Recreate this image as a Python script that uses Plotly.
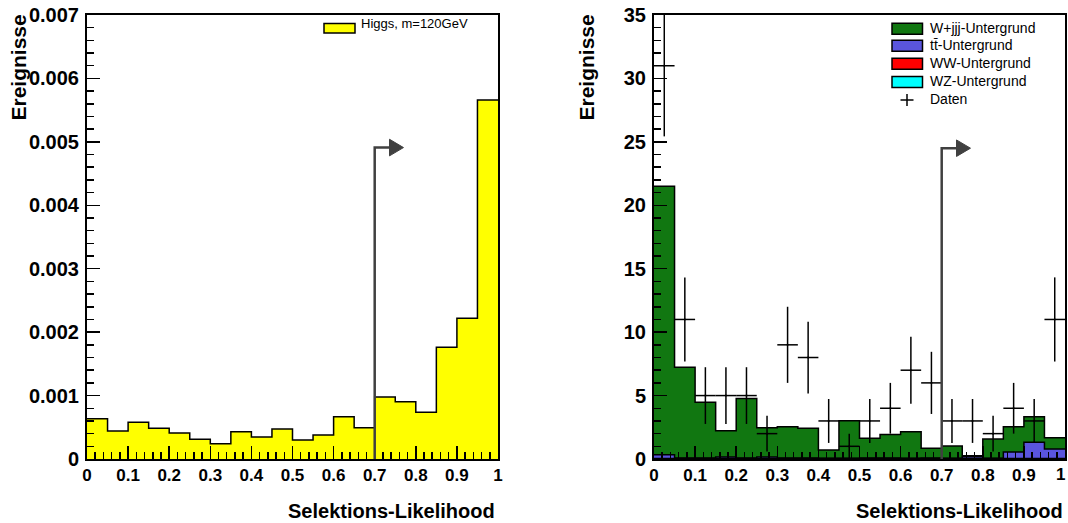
import numpy as np
import plotly.graph_objects as go

# ---------------- data ----------------
bin_edges = [round(0.05 * i, 2) for i in range(21)]
bin_centers = [round(0.025 + 0.05 * i, 3) for i in range(20)]

higgs_120 = [0.000636, 0.000441, 0.000578, 0.000483, 0.000410, 0.000310, 0.000242,
             0.000431, 0.000347, 0.000473, 0.000300, 0.000378, 0.000667, 0.000494,
             0.000978, 0.000904, 0.000736, 0.001760, 0.002220, 0.005660]

wjjj = [21.17, 7.16, 4.40, 2.08, 4.69, 2.32, 2.48, 2.35, 0.66, 2.97,
        1.56, 1.87, 2.10, 0.77, 0.97, 0.08, 1.53, 1.99, 2.02, 0.89]
ttbar = [0.30, 0.04, 0.04, 0.12, 0.04, 0.12, 0.04, 0.04, 0.02, 0.02,
         0.04, 0.04, 0.02, 0.04, 0.02, 0.15, 0.02, 0.53, 1.29, 0.76]
ww = [0.02] * 20
wz = [0.01] * 20
daten = [31, 11, 5, 5, 5, 2, 9, 8, 3, 1, 3, 4, 7, 6, 3, 3, 2, 4, 3, 11]

cut_value = 0.7
x_ticks = [round(0.1 * i, 1) for i in range(11)]
x_ticktext = ["0"] + [f"{v:g}" for v in x_ticks[1:-1]] + ["1"]
y1_ticks = [0.001 * i for i in range(8)]
y1_ticktext = ["0"] + [f"{0.001 * i:.3f}" for i in range(1, 8)]
y2_ticks = [5 * i for i in range(8)]
y2_ticktext = [str(v) for v in y2_ticks]

# ---------------- geometry ----------------
W, H = 1068, 523
def px(x): return x / W
def py(y): return 1 - y / H

FONT = "Liberation Sans"
fig = go.Figure()

def step_outline(vals, xa, ya, color="black", width=1.5):
    xs = list(bin_edges[:-1]) + [bin_edges[-1]]
    ys = list(vals) + [vals[-1]]
    return go.Scatter(x=xs, y=ys, mode="lines", line=dict(shape="hv", color=color, width=width),
                      xaxis=xa, yaxis=ya, showlegend=False, hoverinfo="skip")

# left panel
fig.add_trace(go.Bar(x=bin_centers, y=higgs_120, width=0.05, marker=dict(color="#ffff00", line=dict(width=0)),
                     xaxis="x", yaxis="y", showlegend=False))
fig.add_trace(step_outline(higgs_120, "x", "y"))

# right panel: stacked
s_wz = np.array(wz)
s_ww = s_wz + np.array(ww)
s_tt = s_ww + np.array(ttbar)
s_all = s_tt + np.array(wjjj)
for vals, col in [(s_all, "#117711"), (s_tt, "#5a55dd"), (s_ww, "#ff0000"), (s_wz, "#00ffff")]:
    fig.add_trace(go.Bar(x=bin_centers, y=list(vals), width=0.05, marker=dict(color=col, line=dict(width=0)),
                         xaxis="x2", yaxis="y2", showlegend=False))
    fig.add_trace(step_outline(list(vals), "x2", "y2"))

fig.add_trace(go.Scatter(
    x=bin_centers, y=daten, mode="markers", xaxis="x2", yaxis="y2", showlegend=False,
    marker=dict(color="black", size=2),
    error_y=dict(type="data", array=list(np.sqrt(daten)), color="black", thickness=1.5, width=0),
    error_x=dict(type="constant", value=0.025, color="black", thickness=1.5, width=0)))

# axes
def xaxis(domain, anchor, ticktext):
    return dict(domain=domain, anchor=anchor, range=[0, 1], tickvals=x_ticks, ticktext=ticktext,
                ticks="inside", ticklen=13, tickwidth=1.5, tickcolor="black", automargin=False,
                minor=dict(dtick=0.02, ticks="inside", ticklen=7, tickwidth=1.5, tickcolor="black"),
                showline=True, linewidth=2, linecolor="black", mirror=True,
                showgrid=False, zeroline=False, fixedrange=True, ticklabelstandoff=0,
                tickfont=dict(family=FONT, size=17, color="black", weight="bold"))

def yaxis(domain, anchor, rng, tv, tt, minor):
    return dict(domain=domain, anchor=anchor, range=rng, tickvals=tv, ticktext=tt,
                ticks="inside", ticklen=13, tickwidth=1.5, tickcolor="black", automargin=False,
                minor=dict(dtick=minor, ticks="inside", ticklen=7, tickwidth=1.5, tickcolor="black"),
                showline=True, linewidth=2, linecolor="black", mirror=True,
                showgrid=False, zeroline=False, fixedrange=True, ticklabelstandoff=2,
                tickfont=dict(family=FONT, size=20, color="black", weight="bold"))

ydom = [py(459), py(15)]
fig.update_layout(
    template="none",
    width=W, height=H, autosize=False, margin=dict(l=0, r=0, t=0, b=0, pad=0),
    paper_bgcolor="white", plot_bgcolor="white", barmode="overlay", bargap=0,
    xaxis=xaxis([px(87), px(498)], "y", x_ticktext),
    yaxis=yaxis(ydom, "x", [0, 0.007], y1_ticks, y1_ticktext, 0.0002),
    # last label of the right panel is drawn as an annotation, pulled inside the page edge
    xaxis2=xaxis([px(654), px(1065)], "y2", x_ticktext[:-1] + [""]),
    yaxis2=yaxis(ydom, "x2", [0, 35], y2_ticks, y2_ticktext, 1),
)

shapes, annotations = [], []

annotations.append(dict(text=x_ticktext[-1], xref="paper", yref="paper", x=px(1060), y=py(474),
                        xanchor="center", yanchor="middle", showarrow=False,
                        font=dict(family=FONT, size=17, color="black", weight="bold")))

# cut arrows
for xa, ya, ytop, dy in [("x", "y", 0.00491, 0.000131), ("x2", "y2", 24.5, 0.65)]:
    shapes.append(dict(type="path", xref=xa, yref=ya,
                       path=f"M {cut_value},0 L {cut_value},{ytop} L {cut_value + 0.037},{ytop}",
                       line=dict(color="#404040", width=2.5)))
    shapes.append(dict(type="path", xref=xa, yref=ya,
                       path=f"M {cut_value + 0.036},{ytop + dy} L {cut_value + 0.07},{ytop} L {cut_value + 0.036},{ytop - dy} Z",
                       fillcolor="#404040", line=dict(color="#404040", width=1)))

# axis titles
for xr in [497, 1065]:
    annotations.append(dict(text="Selektions-Likelihood", xref="paper", yref="paper", x=px(xr), y=py(511),
                            xanchor="right", yanchor="middle", showarrow=False,
                            font=dict(family=FONT, size=20, color="black", weight="bold")))
for xc in [17.5, 585.5]:
    annotations.append(dict(text="Ereignisse", xref="paper", yref="paper", x=px(xc), y=py(13),
                            xanchor="center", yanchor="top", textangle=-90, showarrow=False,
                            font=dict(family=FONT, size=21, color="black", weight="bold")))

# left legend
shapes.append(dict(type="rect", xref="paper", yref="paper", x0=px(324), x1=px(355), y0=py(33), y1=py(23.5),
                   fillcolor="#ffff00", line=dict(color="black", width=1.5)))
annotations.append(dict(text="Higgs, m=120GeV", xref="paper", yref="paper", x=px(359), y=py(23),
                        xanchor="left", yanchor="middle", showarrow=False,
                        font=dict(family=FONT, size=13, color="black")))

# right legend
legend_items = [("W+jjj-Untergrund", "#117711", 28.8), ("tt\u0304-Untergrund", "#5a55dd", 45.8),
                ("WW-Untergrund", "#ff0000", 63.8), ("WZ-Untergrund", "#00ffff", 82)]
for label, col, yc in legend_items:
    shapes.append(dict(type="rect", xref="paper", yref="paper", x0=px(892), x1=px(922.5), y0=py(yc + 5.5),
                       y1=py(yc - 5.5), fillcolor=col, line=dict(color="black", width=1.5)))
    annotations.append(dict(text=label, xref="paper", yref="paper", x=px(928), y=py(yc - 1),
                            xanchor="left", yanchor="middle", showarrow=False,
                            font=dict(family=FONT, size=14, color="black")))
shapes.append(dict(type="line", xref="paper", yref="paper", x0=px(900.5), x1=px(913.5), y0=py(100), y1=py(100),
                   line=dict(color="black", width=1.5)))
shapes.append(dict(type="line", xref="paper", yref="paper", x0=px(907), x1=px(907), y0=py(94), y1=py(106),
                   line=dict(color="black", width=1.5)))
annotations.append(dict(text="Daten", xref="paper", yref="paper", x=px(928), y=py(99.5),
                        xanchor="left", yanchor="middle", showarrow=False,
                        font=dict(family=FONT, size=14, color="black")))

fig.update_layout(shapes=shapes, annotations=annotations)
fig.write_html("out.html", config={"displayModeBar": False, "staticPlot": True},
               post_script="document.body.style.margin='0px';document.body.style.overflow='hidden';")
